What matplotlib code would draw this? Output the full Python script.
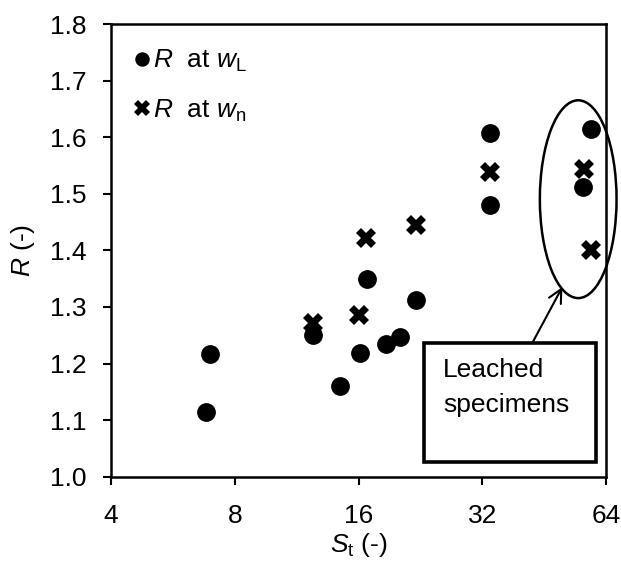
import matplotlib
matplotlib.use('Agg')
import matplotlib.pyplot as plt
from matplotlib.patches import Ellipse, Rectangle
from matplotlib.ticker import FixedLocator, FixedFormatter, NullLocator

plt.rcParams['font.family'] = ['Liberation Sans', 'DejaVu Sans']
plt.rcParams['mathtext.fontset'] = 'custom'
plt.rcParams['mathtext.rm'] = 'Liberation Sans'
plt.rcParams['mathtext.it'] = 'Liberation Sans:italic'

# R at w_L (circles)
st_L = [6.8, 6.95, 12.4, 14.4, 16.1, 16.8, 18.7, 20.2, 22.1, 33.4, 33.4, 56.3, 59.0]
r_L = [1.114, 1.217, 1.251, 1.161, 1.218, 1.349, 1.234, 1.247, 1.313, 1.608, 1.480, 1.512, 1.614]

# R at w_n (crosses)
st_n = [12.4, 16.0, 16.7, 22.1, 33.4, 56.7, 59.0]
r_n = [1.272, 1.285, 1.422, 1.445, 1.539, 1.543, 1.400]

x_ticks = [4, 8, 16, 32, 64]
y_ticks = [1.0, 1.1, 1.2, 1.3, 1.4, 1.5, 1.6, 1.7, 1.8]

FS = 19

fig = plt.figure(figsize=(6.21, 5.65), dpi=100)
ax = fig.add_axes([0.179, 0.1563, 0.7967, 0.8012])

ax.plot(st_L, r_L, 'o', color='black', markersize=12.5, linestyle='none',
        label=r'$R$  at $w_\mathrm{L}$', clip_on=False)
ax.plot(st_n, r_n, 'X', color='black', markersize=15, markeredgewidth=0,
        linestyle='none', label=r'$R$  at $w_\mathrm{n}$', clip_on=False)

ax.set_xscale('log', base=2)
ax.set_xlim(4, 64)
ax.set_ylim(1.0, 1.8)
ax.xaxis.set_major_locator(FixedLocator(x_ticks))
ax.xaxis.set_major_formatter(FixedFormatter([str(t) for t in x_ticks]))
ax.xaxis.set_minor_locator(NullLocator())
ax.set_yticks(y_ticks)
ax.set_yticklabels([f'{t:.1f}' for t in y_ticks])
ax.tick_params(direction='out', length=6, width=1.5, labelsize=FS)
ax.tick_params(axis='x', pad=14)
ax.tick_params(axis='y', pad=12)

for s in ax.spines.values():
    s.set_linewidth(1.8)

ax.set_xlabel(r'$S_\mathrm{t}$ (-)', fontsize=FS, labelpad=2)
ax.set_ylabel(r'$R$ (-)', fontsize=FS, labelpad=9)

ax.legend(loc='upper left', bbox_to_anchor=(0.0, 1.0), frameon=False,
          fontsize=FS, handlelength=0.5, handletextpad=0.2, markerscale=0.75,
          labelspacing=0.9, borderaxespad=0.5)

# leached specimens annotation
ell = Ellipse((0.944, 0.613), 0.155, 0.437, transform=ax.transAxes,
              fill=False, edgecolor='black', linewidth=1.8, clip_on=False)
ax.add_patch(ell)

box = Rectangle((0.633, 0.033), 0.347, 0.262, transform=ax.transAxes,
                fill=False, edgecolor='black', linewidth=2.6)
ax.add_patch(box)
ax.text(0.671, 0.262, 'Leached\nspecimens', transform=ax.transAxes,
        fontsize=FS, va='top', ha='left', linespacing=1.55)

ax.annotate('', xy=(0.912, 0.419), xytext=(0.851, 0.295),
            xycoords='axes fraction', textcoords='axes fraction',
            arrowprops=dict(arrowstyle='->', color='black', lw=1.5,
                            mutation_scale=24, shrinkA=0, shrinkB=0))

fig.savefig('out.png', dpi=100)
